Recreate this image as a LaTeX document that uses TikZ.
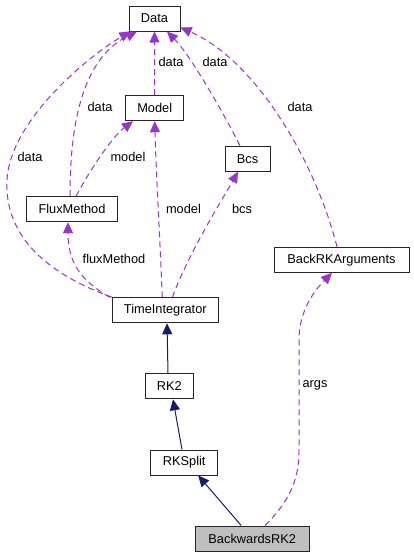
\documentclass[tikz,border=0pt]{standalone}
\usepackage{fontspec}
\setmainfont{Liberation Sans}
\usetikzlibrary{arrows.meta}
\definecolor{usecol}{HTML}{9A32CD}
\definecolor{inhcol}{HTML}{191970}
\definecolor{hlfill}{HTML}{BFBFBF}
\tikzset{
  cls/.style={draw=black!85, line width=1pt, fill=white, minimum height=25pt,
    inner xsep=2pt, inner ysep=0pt, font=\fontsize{12.8}{14}\selectfont, anchor=center},
  lbl/.style={font=\fontsize{12.8}{14}\selectfont, inner sep=0pt},
  useedge/.style={draw=usecol, line width=1pt, dash pattern=on 6pt off 4pt,
    -{Triangle[length=11pt,width=10pt,fill=usecol]}},
  inhedge/.style={draw=inhcol, line width=1pt,
    -{Triangle[length=11pt,width=10pt,fill=inhcol]}}
}
\begin{document}
\begin{tikzpicture}[x=1pt,y=-1pt]
\useasboundingbox (0,0) rectangle (414,557);
% nodes
\node[cls, minimum width=51pt] (Data) at (154.5,18.5) {Data};
\node[cls, minimum width=58pt] (Model) at (154.7,108.2) {Model};
\node[cls, minimum width=45pt] (Bcs) at (247.5,158.7) {Bcs};
\node[cls, minimum width=90.6pt] (Flux) at (72,209.2) {FluxMethod};
\node[cls, minimum width=106pt] (TI) at (165.3,310.3) {TimeIntegrator};
\node[cls, minimum width=135pt] (BRA) at (341.5,259.8) {BackRKArguments};
\node[cls, minimum width=48pt] (RK2) at (169.3,386.3) {RK2};
\node[cls, minimum width=67pt] (RKS) at (184.2,462.5) {RKSplit};
\node[cls, minimum width=113.7pt, fill=hlfill] (BR2) at (252.2,538.5) {BackwardsRK2};

% usage edges
\draw[useedge] (Model.north) -- (Data.south);
\draw[useedge] ([xshift=-7.5pt]Bcs.north) .. controls (222,110) and (190,55) .. ([xshift=12.5pt]Data.south);
\draw[useedge] ([xshift=-2pt]Flux.north) .. controls (70,130) and (80,60) .. ([xshift=-17.5pt]Data.south);
\draw[useedge] ([xshift=0.5pt]TI.north west) .. controls (50,275) and (4,238) .. (7,180)
   .. controls (10,120) and (90,55) .. ([xshift=-24pt]Data.south);
\draw[useedge] ([xshift=4pt]Flux.north) .. controls (90,170) and (112,137) .. ([xshift=-21.7pt]Model.south);
\draw[useedge] ([xshift=-3pt]TI.north) .. controls (160,240) and (156,170) .. (Model.south);
\draw[useedge] ([xshift=7pt]TI.north) .. controls (190,250) and (225,195) .. ([xshift=-9.5pt]Bcs.south);
\draw[useedge] ([xshift=-2pt]TI.north west) .. controls (80,280) and (68,262) .. ([xshift=-4pt]Flux.south);
\draw[useedge] ([xshift=-4.5pt]BRA.north) .. controls (315,160) and (255,60) .. ([yshift=-9pt]Data.east);
\draw[useedge] ([xshift=13pt]BR2.north) .. controls (290,500) and (299,480) .. (299,450) -- (299,340)
   .. controls (299,310) and (315,290) .. ([xshift=-9.5pt]BRA.south);

% inheritance edges
\draw[inhedge] ([xshift=-1.3pt]RK2.north) -- ([xshift=1.7pt]TI.south);
\draw[inhedge] ([xshift=-2.2pt]RKS.north) -- ([xshift=3.7pt]RK2.south);
\draw[inhedge] ([xshift=-11pt]BR2.north) -- ([xshift=14pt]RKS.south);

% labels
\node[lbl] (l1) at (171,62) {data};
\node[lbl] (l2) at (215,62) {data};
\node[lbl] (l3) at (100,107) {data};
\node[lbl] (l4) at (30,157) {data};
\node[lbl] (l5) at (300,107) {data};
\node[lbl] (l6) at (128,157) {model};
\node[lbl] (l7) at (183.5,209) {model};
\node[lbl] (l8) at (242,209) {bcs};
\node[lbl] (l9) at (114,259) {fluxMethod};
\node[lbl] (l10) at (315,385) {args};
\end{tikzpicture}
\end{document}
